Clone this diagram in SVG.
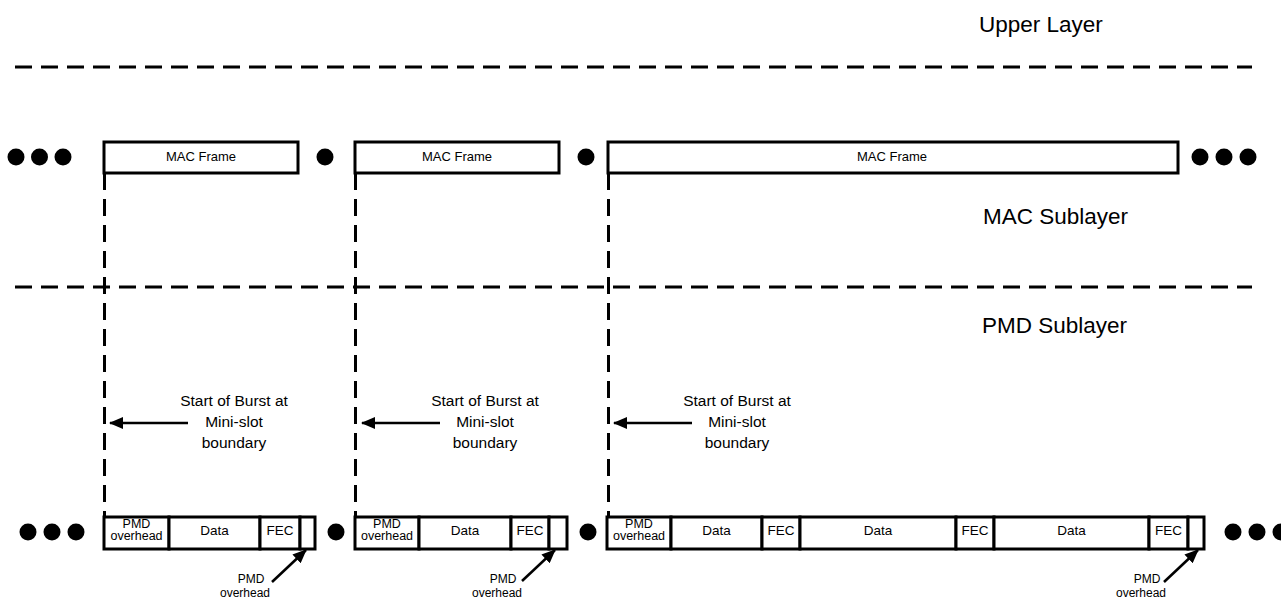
<svg xmlns="http://www.w3.org/2000/svg" width="1281" height="598" viewBox="0 0 1281 598">
<defs>
<style>
text{font-family:"Liberation Sans",Arial,sans-serif;fill:#000}
.lbl{font-size:22.5px}
.mf{font-size:13px;text-anchor:middle}
.ct{font-size:13.5px;text-anchor:middle}
.po{font-size:12.5px;text-anchor:middle}
.pl{font-size:12px;text-anchor:middle}
.sb{font-size:15.5px;text-anchor:middle}
.box{fill:#fff;stroke:#000;stroke-width:3}
.dash{stroke:#000;stroke-width:3;stroke-dasharray:17 9;fill:none}
.arr{stroke:#000;stroke-width:2.5;fill:none}
.dot{fill:#000}
</style>
<marker id="ah" markerUnits="userSpaceOnUse" markerWidth="14" markerHeight="12" refX="13" refY="6" orient="auto">
<path d="M0,0 L14,6 L0,12 Z" fill="#000"/>
</marker>
</defs>
<g id="labels">
<text class="lbl" x="979" y="32">Upper Layer</text>
<text class="lbl" x="983" y="224">MAC Sublayer</text>
<text class="lbl" x="982" y="333">PMD Sublayer</text>
</g>
<g id="connectors">
<line class="dash" x1="15" y1="67" x2="1252" y2="67"/>
<line class="dash" x1="15" y1="287" x2="1252" y2="287"/>
<line class="dash" x1="104.5" y1="173" x2="104.5" y2="517"/>
<line class="dash" x1="355.5" y1="173" x2="355.5" y2="517"/>
<line class="dash" x1="608.5" y1="173" x2="608.5" y2="517"/>
<line class="arr" x1="188" y1="423" x2="110" y2="423" marker-end="url(#ah)"/>
<line class="arr" x1="440" y1="423" x2="362" y2="423" marker-end="url(#ah)"/>
<line class="arr" x1="692" y1="423" x2="614" y2="423" marker-end="url(#ah)"/>
<line class="arr" x1="272" y1="582" x2="306" y2="550" marker-end="url(#ah)"/>
<line class="arr" x1="522" y1="581" x2="555" y2="550" marker-end="url(#ah)"/>
<line class="arr" x1="1164" y1="582" x2="1198" y2="550" marker-end="url(#ah)"/>
</g>
<g id="dots">
<circle class="dot" cx="16" cy="157" r="8.5"/>
<circle class="dot" cx="39.5" cy="157" r="8.5"/>
<circle class="dot" cx="63" cy="157" r="8.5"/>
<circle class="dot" cx="325" cy="157" r="8.5"/>
<circle class="dot" cx="586" cy="157" r="8.5"/>
<circle class="dot" cx="1200" cy="157" r="8.5"/>
<circle class="dot" cx="1224" cy="157" r="8.5"/>
<circle class="dot" cx="1248" cy="157" r="8.5"/>
<circle class="dot" cx="28" cy="532" r="8.5"/>
<circle class="dot" cx="52" cy="532" r="8.5"/>
<circle class="dot" cx="76" cy="532" r="8.5"/>
<circle class="dot" cx="336" cy="532" r="8.5"/>
<circle class="dot" cx="588" cy="532" r="8.5"/>
<circle class="dot" cx="1233" cy="532" r="8.5"/>
<circle class="dot" cx="1257" cy="532" r="8.5"/>
<circle class="dot" cx="1281" cy="532" r="8.5"/>
</g>
<g id="mac1"><rect class="box" x="104" y="142" width="194" height="31"/><text class="mf" x="201" y="161">MAC Frame</text></g>
<g id="mac2"><rect class="box" x="355" y="142" width="204" height="31"/><text class="mf" x="457" y="161">MAC Frame</text></g>
<g id="mac3"><rect class="box" x="608" y="142" width="570" height="31"/><text class="mf" x="892" y="161">MAC Frame</text></g>
<g id="start1"><text class="sb" x="234" y="406">Start of Burst at</text><text class="sb" x="234" y="427">Mini-slot</text><text class="sb" x="234" y="448">boundary</text></g>
<g id="start2"><text class="sb" x="485" y="406">Start of Burst at</text><text class="sb" x="485" y="427">Mini-slot</text><text class="sb" x="485" y="448">boundary</text></g>
<g id="start3"><text class="sb" x="737" y="406">Start of Burst at</text><text class="sb" x="737" y="427">Mini-slot</text><text class="sb" x="737" y="448">boundary</text></g>
<g id="burst1">
<rect class="box" x="104" y="517" width="65" height="32"/>
<rect class="box" x="169" y="517" width="91" height="32"/>
<rect class="box" x="260" y="517" width="40" height="32"/>
<rect class="box" x="300" y="517" width="15" height="32"/>
<text class="po" x="136.5" y="528">PMD</text><text class="po" x="136.5" y="540">overhead</text>
<text class="ct" x="214.5" y="535">Data</text>
<text class="ct" x="280" y="535">FEC</text>
</g>
<g id="burst2">
<rect class="box" x="355" y="517" width="64" height="32"/>
<rect class="box" x="419" y="517" width="92" height="32"/>
<rect class="box" x="511" y="517" width="38" height="32"/>
<rect class="box" x="549" y="517" width="18" height="32"/>
<text class="po" x="387" y="528">PMD</text><text class="po" x="387" y="540">overhead</text>
<text class="ct" x="465" y="535">Data</text>
<text class="ct" x="530" y="535">FEC</text>
</g>
<g id="burst3">
<rect class="box" x="607" y="517" width="64" height="32"/>
<rect class="box" x="671" y="517" width="91" height="32"/>
<rect class="box" x="762" y="517" width="38" height="32"/>
<rect class="box" x="800" y="517" width="156" height="32"/>
<rect class="box" x="956" y="517" width="38" height="32"/>
<rect class="box" x="994" y="517" width="155" height="32"/>
<rect class="box" x="1149" y="517" width="39" height="32"/>
<rect class="box" x="1188" y="517" width="16" height="32"/>
<text class="po" x="639" y="528">PMD</text><text class="po" x="639" y="540">overhead</text>
<text class="ct" x="716.5" y="535">Data</text>
<text class="ct" x="781" y="535">FEC</text>
<text class="ct" x="878" y="535">Data</text>
<text class="ct" x="975" y="535">FEC</text>
<text class="ct" x="1071.5" y="535">Data</text>
<text class="ct" x="1168.5" y="535">FEC</text>
</g>
<g id="pmdlbl1"><text class="pl" x="251" y="583">PMD</text><text class="pl" x="245" y="597">overhead</text></g>
<g id="pmdlbl2"><text class="pl" x="503" y="583">PMD</text><text class="pl" x="497" y="597">overhead</text></g>
<g id="pmdlbl3"><text class="pl" x="1147" y="583">PMD</text><text class="pl" x="1141" y="597">overhead</text></g>
</svg>
